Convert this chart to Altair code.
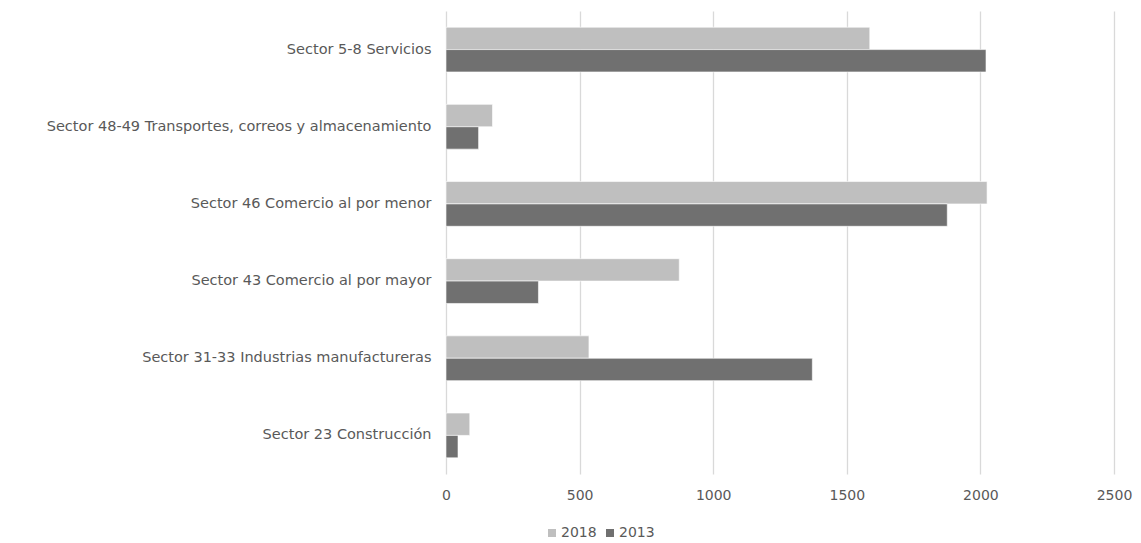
import altair as alt
import pandas as pd

sectors = [
    "Sector 5-8 Servicios",
    "Sector 48-49 Transportes, correos y almacenamiento",
    "Sector 46 Comercio al por menor",
    "Sector 43 Comercio al por mayor",
    "Sector 31-33 Industrias manufactureras",
    "Sector 23 Construcción",
]
years = ["2018", "2013"]
values_2018 = [1586, 174, 2025, 873, 535, 89]
values_2013 = [2021, 122, 1876, 346, 1371, 45]

rows = []
for s, v18, v13 in zip(sectors, values_2018, values_2013):
    rows.append({"sector": s, "year": "2018", "value": v18})
    rows.append({"sector": s, "year": "2013", "value": v13})
df = pd.DataFrame(rows)

FONT = "DejaVu Sans"
TXT = "#595959"

chart = alt.Chart(df).mark_bar(stroke="#ffffff", strokeWidth=0.6).encode(
    y=alt.Y("sector:N", sort=sectors,
            scale=alt.Scale(paddingInner=0.42, paddingOuter=0.21),
            axis=alt.Axis(title=None, ticks=False, domain=False, labelPadding=15,
                          labelLimit=600, labelFontSize=14.5, labelFont=FONT,
                          labelColor=TXT)),
    yOffset=alt.YOffset("year:N", sort=years),
    x=alt.X("value:Q", scale=alt.Scale(domain=[0, 2500], nice=False),
            axis=alt.Axis(title=None, values=[0, 500, 1000, 1500, 2000, 2500],
                          format="d", labelFlush=False,
                          ticks=False, domain=False, grid=True, gridColor="#d9d9d9",
                          gridWidth=1.3, labelPadding=14, labelFontSize=14,
                          labelFont=FONT, labelColor=TXT)),
    color=alt.Color("year:N", sort=years,
                    scale=alt.Scale(domain=years, range=["#bfbfbf", "#707070"]),
                    legend=alt.Legend(title=None, orient="none", direction="horizontal",
                                      legendX=99, legendY=515, symbolType="square",
                                      symbolSize=64, symbolStrokeWidth=0,
                                      labelFontSize=14, labelFont=FONT, labelColor=TXT,
                                      columnPadding=6, labelOffset=2)),
).properties(
    width=668, height=463,
    autosize=alt.AutoSizeParams(type="none"),
    padding={"left": 438, "top": 3, "right": 19, "bottom": 68},
).configure_view(stroke=None)

chart.save("out.html", embed_options={"renderer": "svg", "actions": False})
